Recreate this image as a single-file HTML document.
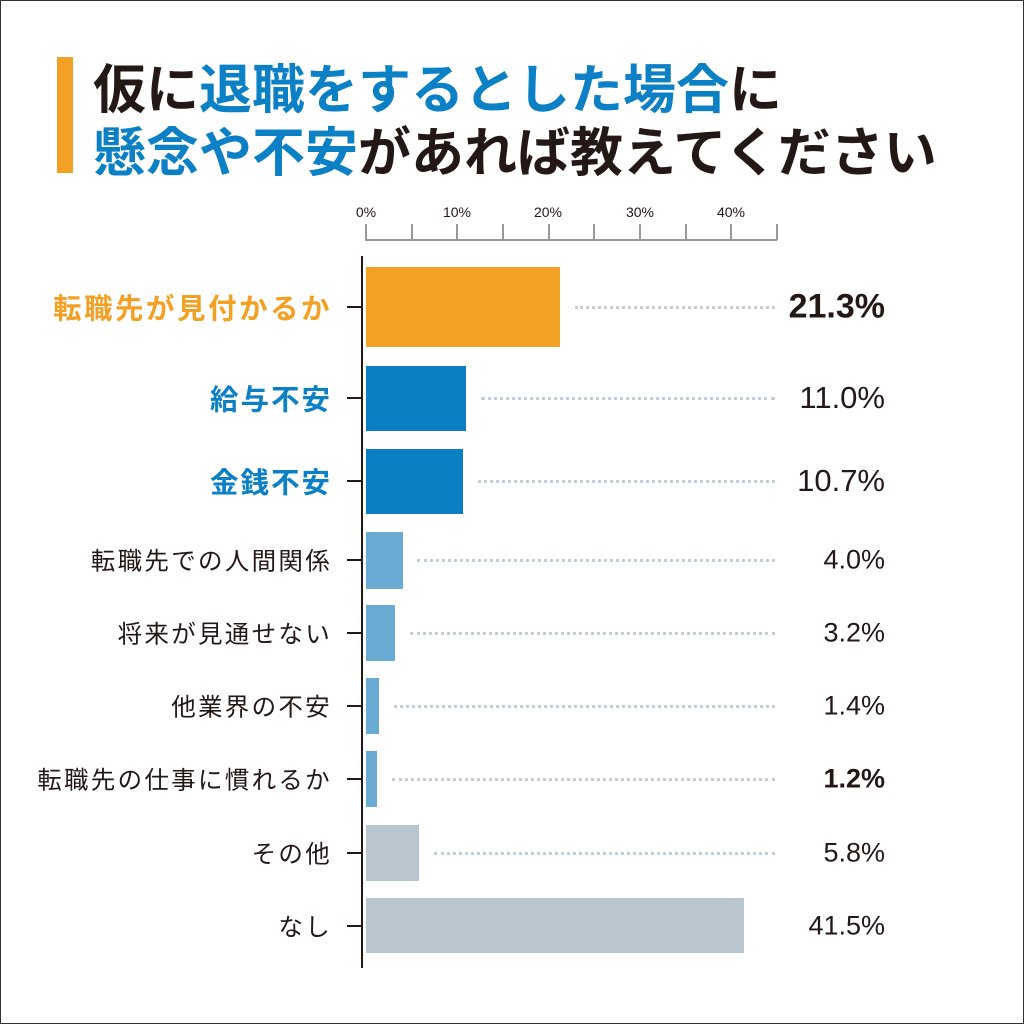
<!DOCTYPE html>
<html><head><meta charset="utf-8"><style>
*{margin:0;padding:0;box-sizing:border-box}
body{width:1024px;height:1024px;background:#fff;position:relative;overflow:hidden;font-family:"Liberation Sans","Noto Sans CJK JP",sans-serif;color:#231815}
.frame{position:absolute;left:0;top:0;width:1024px;height:1024px;border:1.5px solid #333}
.t{position:absolute;font-weight:bold;font-size:53px;line-height:60px;white-space:nowrap;letter-spacing:0px}
.b{color:#0b80c5}
.lab{position:absolute;right:692px;white-space:nowrap;font-size:24.5px;letter-spacing:2.3px;transform:translateY(-50%)}
.val{position:absolute;right:139px;white-space:nowrap;font-size:27px;transform:translateY(-50%)}
.bar{position:absolute;left:366px}
.dot{position:absolute;height:0;border-top:3px dotted #c3d0da}
.tk{position:absolute;left:347px;width:15px;height:2px;background:#231815}
.ax{position:absolute;top:204px;font-size:14px;transform:translateX(-50%)}
.vt{position:absolute;top:224px;width:1.5px;height:16px;background:#999}
</style></head><body>
<div class="frame"></div>
<div style="position:absolute;left:57px;top:57px;width:16px;height:116px;background:#f2a124"></div>
<div class="t" style="left:93px;top:61px">仮に<span class="b">退職をするとした場合</span>に</div>
<div class="t" style="left:93px;top:124px"><span class="b">懸念や不安</span>があれば教えてください</div>

<div class="ax" style="left:366px">0%</div>
<div class="ax" style="left:457px">10%</div>
<div class="ax" style="left:548px">20%</div>
<div class="ax" style="left:640px">30%</div>
<div class="ax" style="left:731px">40%</div>
<div class="vt" style="left:365px"></div><div class="vt" style="left:411px"></div><div class="vt" style="left:456px"></div><div class="vt" style="left:502px"></div><div class="vt" style="left:548px"></div><div class="vt" style="left:593px"></div><div class="vt" style="left:639px"></div><div class="vt" style="left:685px"></div><div class="vt" style="left:730px"></div><div class="vt" style="left:776px"></div>
<div style="position:absolute;left:365px;top:239px;width:412px;height:1.5px;background:#999"></div>

<div style="position:absolute;left:361px;top:256px;width:2px;height:712px;background:#231815"></div>

<div class="bar" style="top:267px;width:194px;height:80px;background:#f2a124"></div>
<div class="bar" style="top:366px;width:100px;height:65px;background:#0b7fc4"></div>
<div class="bar" style="top:449px;width:97px;height:65px;background:#0b7fc4"></div>
<div class="bar" style="top:532px;width:37px;height:57px;background:#6aabd3"></div>
<div class="bar" style="top:605px;width:29px;height:56px;background:#6aabd3"></div>
<div class="bar" style="top:678px;width:13px;height:56px;background:#6aabd3"></div>
<div class="bar" style="top:751px;width:11px;height:56px;background:#6aabd3"></div>
<div class="bar" style="top:825px;width:53px;height:56px;background:#b9c6cf"></div>
<div class="bar" style="top:898px;width:378px;height:55px;background:#b9c6cf"></div>

<div class="tk" style="top:306px"></div><div class="tk" style="top:397px"></div><div class="tk" style="top:480px"></div><div class="tk" style="top:559px"></div><div class="tk" style="top:632px"></div><div class="tk" style="top:705px"></div><div class="tk" style="top:778px"></div><div class="tk" style="top:852px"></div><div class="tk" style="top:925px"></div>

<div class="dot" style="left:575px;width:200px;top:306px"></div>
<div class="dot" style="left:481px;width:294px;top:397px"></div>
<div class="dot" style="left:478px;width:297px;top:480px"></div>
<div class="dot" style="left:417px;width:358px;top:559px"></div>
<div class="dot" style="left:410px;width:365px;top:632px"></div>
<div class="dot" style="left:394px;width:381px;top:705px"></div>
<div class="dot" style="left:392px;width:383px;top:778px"></div>
<div class="dot" style="left:434px;width:341px;top:852px"></div>

<div class="lab" style="top:307px;font-size:28.5px;letter-spacing:2.5px;font-weight:bold;color:#f2a124">転職先が見付かるか</div>
<div class="lab" style="top:398px;font-size:28.5px;letter-spacing:2px;font-weight:bold;color:#0b80c5">給与不安</div>
<div class="lab" style="top:481px;font-size:28.5px;letter-spacing:2px;font-weight:bold;color:#0b80c5">金銭不安</div>
<div class="lab" style="top:560px">転職先での人間関係</div>
<div class="lab" style="top:633px">将来が見通せない</div>
<div class="lab" style="top:706px">他業界の不安</div>
<div class="lab" style="top:779px">転職先の仕事に慣れるか</div>
<div class="lab" style="top:853px">その他</div>
<div class="lab" style="top:926px">なし</div>

<div class="val" style="top:307px;font-size:34px;font-weight:bold">21.3%</div>
<div class="val" style="top:398px;font-size:31px">11.0%</div>
<div class="val" style="top:481px;font-size:31px">10.7%</div>
<div class="val" style="top:560px">4.0%</div>
<div class="val" style="top:633px">3.2%</div>
<div class="val" style="top:706px">1.4%</div>
<div class="val" style="top:779px;font-weight:bold">1.2%</div>
<div class="val" style="top:853px">5.8%</div>
<div class="val" style="top:926px">41.5%</div>
</body></html>
